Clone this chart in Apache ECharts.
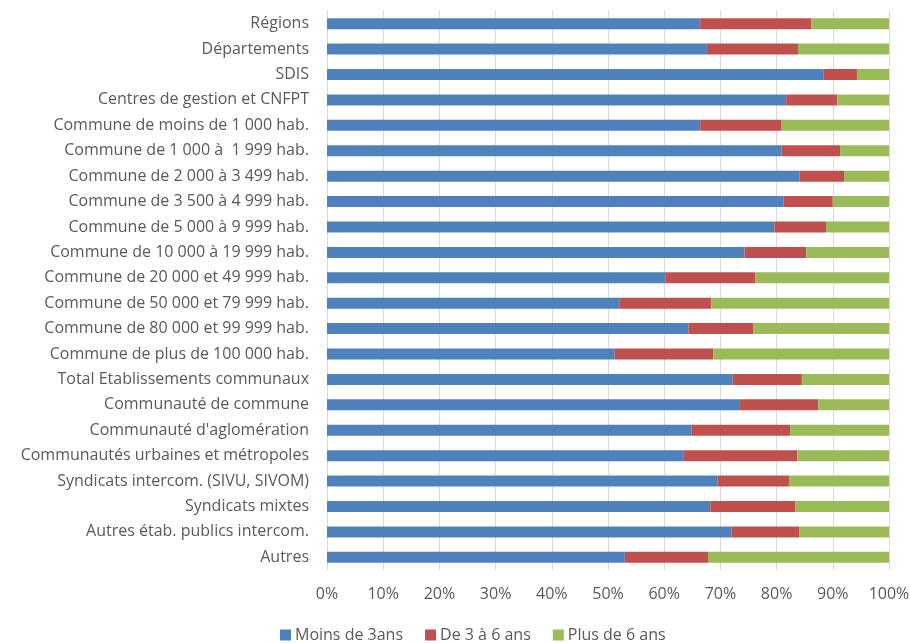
<!DOCTYPE html>
<html>
<head>
<meta charset="utf-8">
<script src="https://cdn.jsdelivr.net/npm/echarts@6/dist/echarts.min.js"></script>
<style>
  html, body { margin: 0; padding: 0; background: #fff; }
  #chart { width: 910px; height: 643px; }
</style>
</head>
<body>
<div id="chart"></div>
<script>
"use strict";
// categories, top to bottom
var categories = [
    "Régions",
    "Départements",
    "SDIS",
    "Centres de gestion et CNFPT",
    "Commune de moins de 1 000 hab.",
    "Commune de 1 000 à  1 999 hab.",
    "Commune de 2 000 à 3 499 hab.",
    "Commune de 3 500 à 4 999 hab.",
    "Commune de 5 000 à 9 999 hab.",
    "Commune de 10 000 à 19 999 hab.",
    "Commune de 20 000 et 49 999 hab.",
    "Commune de 50 000 et 79 999 hab.",
    "Commune de 80 000 et 99 999 hab.",
    "Commune de plus de 100 000 hab.",
    "Total Etablissements communaux",
    "Communauté de commune",
    "Communauté d'aglomération",
    "Communautés urbaines et métropoles",
    "Syndicats intercom. (SIVU, SIVOM)",
    "Syndicats mixtes",
    "Autres étab. publics intercom.",
    "Autres"
];
var seriesNames = ["Moins de 3ans", "De 3 à 6 ans", "Plus de 6 ans"];
// shares in %
var moinsDe3 = [66.4, 67.6, 88.4, 81.7, 66.4, 80.9, 84.1, 81.2, 79.6, 74.3, 60.3,
    52.0, 64.3, 51.2, 72.2, 73.5, 64.9, 63.5, 69.5, 68.2, 72.0, 53.0];
var de3a6 = [19.8, 16.2, 5.9, 9.1, 14.5, 10.4, 7.9, 8.8, 9.2, 11.0, 15.9,
    16.4, 11.6, 17.5, 12.3, 13.9, 17.5, 20.2, 12.7, 15.1, 12.0, 14.8];
var plusDe6 = [13.8, 16.2, 5.7, 9.2, 19.1, 8.7, 8.0, 10.0, 11.2, 14.7, 23.8,
    31.6, 24.1, 31.3, 15.5, 12.6, 17.6, 16.3, 17.8, 16.7, 16.0, 32.2];
var colors = ["#4f81bd", "#c0504d", "#9bbb59"];

var chart = echarts.init(document.getElementById("chart"));
var font = "'Open Sans', sans-serif";

function makeSeries(name, data, i) {
    return {
        name: name,
        type: "bar",
        stack: "total",
        data: data,
        barWidth: 11,
        itemStyle: { color: colors[i] },
        emphasis: { disabled: true }
    };
}

var options = {
    animation: false,
    textStyle: { fontFamily: font },
    grid: {
        left: 327, right: 21, top: 11, bottom: 73,
        containLabel: false,
        outerBoundsMode: "none"
    },
    legend: {
        top: 622,
        left: 275,
        itemWidth: 11,
        itemHeight: 11,
        itemGap: 22,
        icon: "rect",
        textStyle: { color: "#595959", fontSize: 16, fontFamily: font, padding: [0, 0, 0, -1] },
        data: seriesNames
    },
    xAxis: {
        type: "value",
        min: 0,
        max: 100,
        interval: 10,
        axisLabel: {
            formatter: "{value}%",
            color: "#595959",
            fontSize: 16,
            margin: 16
        },
        axisLine: { show: false },
        axisTick: { show: false },
        splitLine: { lineStyle: { color: "#d9d9d9", width: 1 } }
    },
    yAxis: {
        type: "category",
        inverse: true,
        data: categories,
        axisLabel: { color: "#595959", fontSize: 16, margin: 18 },
        axisLine: { show: false },
        axisTick: { show: false }
    },
    series: [
        makeSeries(seriesNames[0], moinsDe3, 0),
        makeSeries(seriesNames[1], de3a6, 1),
        makeSeries(seriesNames[2], plusDe6, 2)
    ]
};
chart.setOption(options);
</script>
</body>
</html>
